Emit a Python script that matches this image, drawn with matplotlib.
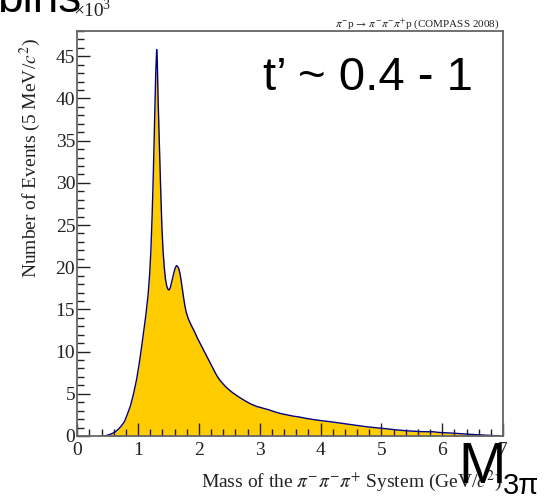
import numpy as np
import matplotlib
matplotlib.use("Agg")
import matplotlib.pyplot as plt
from matplotlib.ticker import MultipleLocator

plt.rcParams['mathtext.fontset'] = 'stix'
plt.rcParams['font.family'] = ['Liberation Serif', 'DejaVu Serif']

# bin edges of the 3pi mass spectrum (GeV/c^2)
mass_edges = np.concatenate([
    np.arange(0.40, 1.151, 0.05),
    [1.18],
    np.arange(1.20, 1.301, 0.02),
    [1.31],
    np.arange(1.32, 1.801, 0.02),
    np.arange(1.85, 2.501, 0.05),
    np.arange(2.60, 7.001, 0.10),
])

# events per 5 MeV/c^2, in units of 10^3
events = [
    0.0, 0.05, 0.15, 0.3, 0.5, 0.8, 1.2, 1.7, 2.6, 3.6, 5.0, 6.7, 8.9, 11.5, 14.2,
    16.8,
    19.2, 22.0, 26.0, 31.0, 37.0, 43.0,
    45.8, 44.5,
    39.5, 34.5, 29.5, 25.0, 22.0, 20.0, 18.6, 17.8, 17.4, 17.3, 17.6, 18.2,
    18.8, 19.4, 19.9, 20.2, 20.1, 19.8, 19.2, 18.3, 17.3, 16.3, 15.4, 14.7,
    13.9, 13.1, 12.4, 11.6, 10.9, 10.2, 9.5, 8.8, 8.1, 7.4, 6.8, 6.35, 5.95, 5.6,
    5.15, 4.65, 4.2, 3.8, 3.5, 3.3, 3.1, 2.85, 2.65, 2.5, 2.35, 2.25, 2.1, 1.98,
    1.88, 1.78, 1.7, 1.6, 1.5, 1.4, 1.3, 1.2, 1.1, 1.02, 0.95, 0.88, 0.8, 0.72,
    0.66, 0.6, 0.56, 0.52, 0.5, 0.5, 0.42, 0.38, 0.34, 0.3, 0.25, 0.2, 0.16,
    0.12, 0.08, 0.04, 0.0,
]
assert len(events) == len(mass_edges) - 1

# 5 MeV bins are far below a pixel, so the histogram reads as a curve
mass = (mass_edges[:-1] + mass_edges[1:]) / 2

fig = plt.figure(figsize=(5.47, 4.99), dpi=100)
ax = fig.add_axes([0.1413, 0.1263, 0.7783, 0.8116])

ax.fill_between(mass, events, 0, color='#ffcc00', lw=0)
ax.plot(mass, events, color='#000080', lw=1.0)

ax.set_xlim(0, 7)
ax.set_ylim(0, 48)
ax.xaxis.set_major_locator(MultipleLocator(1))
ax.xaxis.set_minor_locator(MultipleLocator(0.2))
ax.yaxis.set_major_locator(MultipleLocator(5))
ax.yaxis.set_minor_locator(MultipleLocator(1))
ax.tick_params(which='both', direction='in', top=False, right=False,
               color='#222222', width=1.0, labelsize=14, labelcolor='#222222')
ax.tick_params(axis='x', which='both', pad=4)
ax.tick_params(axis='y', which='both', pad=1.5)
ax.tick_params(which='major', length=9.4)
ax.tick_params(which='minor', length=4.7)
for s in ax.spines.values():
    s.set_color('#666666')
    s.set_linewidth(1.3)

# slide annotations (the cut-off word sits underneath the plot texts)
sans = ['Liberation Sans', 'DejaVu Sans']
fig.text(-3 / 547, 1 - 12 / 499, 'bins', family=sans, fontsize=33,
         ha='left', va='baseline', zorder=1)
fig.text(473 / 547, 1 - 90 / 499, 't\u2019 ~ 0.4 - 1', family=sans, fontsize=34,
         ha='right', va='baseline')

# axis titles, ROOT style
fig.text(30 / 547, 1 - 38 / 499, r'Number of Events (5 MeV/$c^{2}$)', rotation=90,
         ha='center', va='top', fontsize=14, color='#222222')
fig.text(502 / 547, 1 - 487 / 499, r'Mass of the $\pi^{-}\pi^{-}\pi^{+}$ System (GeV/$c^{2}$)',
         ha='right', va='baseline', fontsize=14, color='#222222')
# axis multiplier
fig.text(73 / 547, 1 - 16 / 499, '\u00d710', ha='left', va='baseline',
         fontsize=14, color='#222222', zorder=5)
fig.text(102 / 547, 1 - 9 / 499, '3', ha='left', va='baseline',
         fontsize=10, color='#222222', zorder=5)
fig.text(499 / 547, 1 - 27 / 499,
         r'$\pi^{-}$p$\,\rightarrow\,\pi^{-}\pi^{-}\pi^{+}$p (COMPASS 2008)',
         ha='right', va='baseline', fontsize=8, color='#222222')

fig.text(458 / 547, 1 - 483 / 499, 'M', family=sans, fontsize=41,
         ha='left', va='baseline', zorder=5)
fig.text(503 / 547, 1 - 494 / 499, '3\u03c0', family=sans, fontsize=21,
         ha='left', va='baseline', zorder=5)

fig.savefig('out.png', dpi=100)
